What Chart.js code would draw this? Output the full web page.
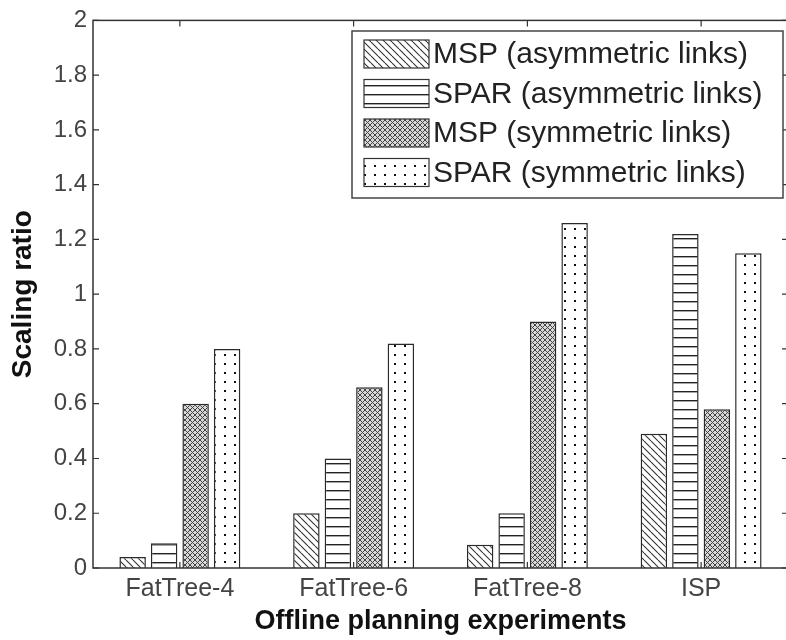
<!DOCTYPE html>
<html>
<head>
<meta charset="utf-8">
<script src="https://cdn.jsdelivr.net/npm/chart.js@4.4.1/dist/chart.umd.min.js"></script>
<style>
html, body { margin: 0; padding: 0; background: #fff; overflow: hidden; }
#wrap { width: 786px; height: 640px; overflow: hidden; }
</style>
</head>
<body>
<div id="wrap"><canvas id="myBarChartScaling" width="800" height="640" style="width:800px;height:640px"></canvas></div>
<script>
// data
var categories = ['FatTree-4', 'FatTree-6', 'FatTree-8', 'ISP'];
var seriesLabels = ['MSP (asymmetric links)', 'SPAR (asymmetric links)', 'MSP (symmetric links)', 'SPAR (symmetric links)'];
var mspAsym = [0.04, 0.2, 0.085, 0.49];
var sparAsym = [0.09, 0.4, 0.2, 1.22];
var mspSym = [0.6, 0.66, 0.9, 0.58];
var sparSym = [0.8, 0.82, 1.26, 1.15];
var yMin = 0, yMax = 2, yStep = 0.2;

var FONT = '"Liberation Sans", Arial, sans-serif';

// hatch fills like the matlab figure
function makePattern(kind) {
	var c = document.createElement('canvas');
	var ctx = c.getContext('2d');
	if (kind == 'diag') {
		c.width = 7; c.height = 7;
		ctx.fillStyle = '#fff'; ctx.fillRect(0, 0, 7, 7);
		ctx.strokeStyle = '#333'; ctx.lineWidth = 1.1;
		ctx.beginPath();
		for (var x0 = -7; x0 <= 7; x0 += 7) { ctx.moveTo(x0, 0); ctx.lineTo(x0 + 7, 7); }
		ctx.stroke();
	} else if (kind == 'horiz') {
		c.width = 4; c.height = 9;
		ctx.fillStyle = '#fff'; ctx.fillRect(0, 0, 4, 9);
		ctx.fillStyle = '#222'; ctx.fillRect(0, 4, 4, 1.4);
	} else if (kind == 'cross') {
		c.width = 5; c.height = 5;
		ctx.fillStyle = '#d8d8d8'; ctx.fillRect(0, 0, 5, 5);
		ctx.strokeStyle = '#444'; ctx.lineWidth = 1;
		ctx.beginPath();
		for (var x1 = -5; x1 <= 5; x1 += 5) {
			ctx.moveTo(x1, 0); ctx.lineTo(x1 + 5, 5);
			ctx.moveTo(x1, 5); ctx.lineTo(x1 + 5, 0);
		}
		ctx.stroke();
	} else {
		c.width = 10; c.height = 9;
		ctx.fillStyle = '#fff'; ctx.fillRect(0, 0, 10, 9);
		ctx.fillStyle = '#111'; ctx.fillRect(4, 3, 2, 2);
	}
	return ctx.createPattern(c, 'repeat');
}

var fills = [makePattern('diag'), makePattern('horiz'), makePattern('cross'), makePattern('dots')];
var seriesValues = [mspAsym, sparAsym, mspSym, sparSym];

// frame, inward ticks and the boxed legend
var matlabFrame = {
	id: 'matlabFrame',
	afterDraw: function(chart) {
		var ctx = chart.ctx, a = chart.chartArea;
		var xs = chart.scales.x, ys = chart.scales.y;
		ctx.save();
		ctx.strokeStyle = '#333';
		ctx.lineWidth = 1.5;
		ctx.strokeRect(a.left, a.top, a.right - a.left, a.bottom - a.top);
		ctx.lineWidth = 1.2;
		ctx.beginPath();
		ys.ticks.forEach(function(t) {
			var y = ys.getPixelForValue(t.value);
			ctx.moveTo(a.left, y); ctx.lineTo(a.left + 6, y);
			ctx.moveTo(a.right, y); ctx.lineTo(a.right - 6, y);
		});
		xs.ticks.forEach(function(t, i) {
			var x = xs.getPixelForTick(i);
			ctx.moveTo(x, a.top); ctx.lineTo(x, a.top + 6);
			ctx.moveTo(x, a.bottom); ctx.lineTo(x, a.bottom - 6);
		});
		ctx.stroke();

		// legend
		var lx = 352, ly = 31, lw = 431, lh = 167;
		ctx.fillStyle = '#fff';
		ctx.fillRect(lx, ly, lw, lh);
		ctx.strokeStyle = '#444';
		ctx.lineWidth = 1.5;
		ctx.strokeRect(lx, ly, lw, lh);
		ctx.font = '30px ' + FONT;
		ctx.textBaseline = 'middle';
		ctx.textAlign = 'left';
		chart.data.datasets.forEach(function(ds, i) {
			var cy = 54 + i * 39.5;
			ctx.fillStyle = ds.backgroundColor;
			ctx.fillRect(364, cy - 14, 65, 28);
			ctx.strokeStyle = '#333';
			ctx.lineWidth = 1.2;
			ctx.strokeRect(364, cy - 14, 65, 28);
			ctx.fillStyle = '#222';
			ctx.fillText(ds.label, 433, cy + 1);
		});
		ctx.restore();
	}
};

var chartCtx = document.getElementById('myBarChartScaling').getContext('2d');
var myChart = new Chart(chartCtx, {
	type: 'bar',
	data: {
		labels: categories,
		datasets: seriesLabels.map(function(lbl, i) {
			return {
				label: lbl,
				data: seriesValues[i],
				backgroundColor: fills[i],
				borderColor: '#2a2a2a',
				borderWidth: 1.5,
				categoryPercentage: 0.725,
				barPercentage: 0.84
			};
		})
	},
	options: {
		responsive: false,
		animation: false,
		layout: { padding: { top: 19, right: 12, left: 0, bottom: 0 } },
		plugins: {
			legend: { display: false },
			tooltip: { enabled: false }
		},
		scales: {
			x: {
				grid: { display: false, drawTicks: false },
				border: { display: false },
				ticks: { color: '#444', padding: 6, font: { family: FONT, size: 25 } },
				title: {
					display: true,
					text: 'Offline planning experiments',
					color: '#111',
					font: { family: FONT, size: 27, weight: 'bold' },
					padding: { top: 0, bottom: 2 }
				},
				afterFit: function(s) { s.height = 72; }
			},
			y: {
				min: yMin,
				max: yMax,
				grid: { display: false, drawTicks: false },
				border: { display: false },
				ticks: {
					stepSize: yStep,
					color: '#444',
					padding: 6,
					font: { family: FONT, size: 24 },
					callback: function(v) { return String(+v.toFixed(1)); }
				},
				title: {
					display: true,
					text: 'Scaling ratio',
					color: '#111',
					font: { family: FONT, size: 28, weight: 'bold' },
					padding: { top: 6, bottom: 0 }
				},
				afterFit: function(s) { s.width = 93; }
			}
		}
	},
	plugins: [matlabFrame]
});
</script>
</body>
</html>
